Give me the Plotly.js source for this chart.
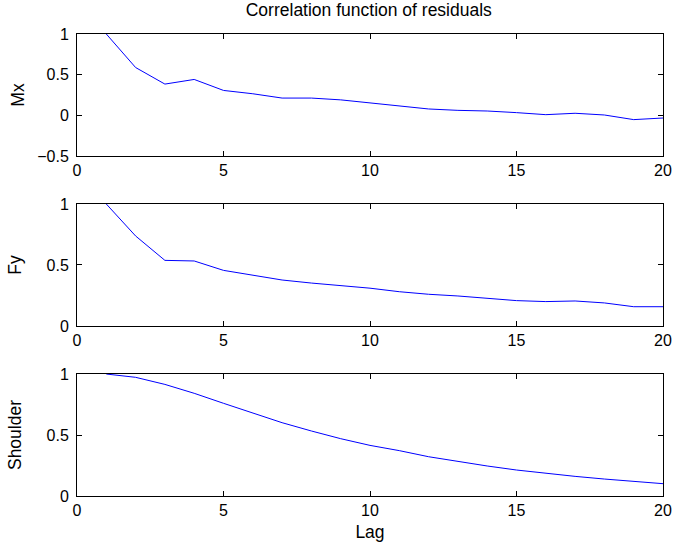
<!DOCTYPE html>
<html><head><meta charset="utf-8">
<script src="https://cdn.plot.ly/plotly-3.0.1.min.js"></script>
<style>html,body{margin:0;padding:0;background:#fff}</style>
</head><body><div id="plot" style="width:673px;height:543px"></div>
<script>
const lags = [1,2,3,4,5,6,7,8,9,10,11,12,13,14,15,16,17,18,19,20];
const mx = [1,0.588,0.384,0.441,0.306,0.265,0.212,0.212,0.19,0.15,0.11,0.078,0.061,0.053,0.033,0.008,0.025,0.004,-0.053,-0.033];
const fy = [1,0.738,0.538,0.533,0.456,0.418,0.377,0.352,0.333,0.31,0.281,0.26,0.246,0.227,0.208,0.2,0.205,0.189,0.158,0.158];
const shoulder = [1,0.973,0.915,0.842,0.76,0.678,0.601,0.533,0.47,0.415,0.372,0.322,0.281,0.246,0.213,0.186,0.161,0.139,0.12,0.101];
const yTitles = ["Mx","Fy","Shoulder"];
const titleText = "Correlation function of residuals";
const xTitle = "Lag";

const FAM = "Liberation Sans, Arial, sans-serif";
const FS = 16;
const TS = 17.5;
const traces = [mx, fy, shoulder].map((v,i)=>({
  x: lags, y: v, type:"scatter", mode:"lines",
  line:{color:"#0000ff", width:1},
  xaxis: i===0 ? "x" : "x"+(i+1), yaxis: i===0 ? "y" : "y"+(i+1),
  showlegend:false, hoverinfo:"skip"
}));
const doms = [[0.736,1],[0.368,0.632],[0,0.264]];
const layout = {
  width:673, height:543,
  margin:{l:77,r:10,t:34,b:47},
  paper_bgcolor:"#fff", plot_bgcolor:"#fff",
  font:{family:FAM, size:FS, color:"#000"},
  title:{text:titleText, font:{family:FAM,size:TS,color:"#000"}, x:0.548, xanchor:"center", y:0.982, yanchor:"middle"},
  showlegend:false
};
const ax = (n)=> n===0 ? "" : String(n+1);
for (let i=0;i<3;i++){
  layout["xaxis"+ax(i)] = {
    domain:[0,1], anchor:"y"+ax(i), range:[0,20], tickvals:[0,5,10,15,20],
    ticks:"inside", ticklen:5, tickcolor:"#000", showgrid:false, zeroline:false,
    showline:true, linecolor:"#000", linewidth:1, mirror:"ticks",
    tickfont:{family:FAM,size:FS,color:"#000"},
    title: i===2 ? {text:xTitle, font:{family:FAM,size:TS,color:"#000"}, standoff:7} : undefined
  };
  const yr = i===0 ? [-0.5,1] : [0,1];
  const yt = i===0 ? [-0.5,0,0.5,1] : [0,0.5,1];
  const ytt = i===0 ? ["\u22120.5","0","0.5","1"] : ["0","0.5","1"];
  layout["yaxis"+ax(i)] = {
    domain:doms[i], anchor:"x"+ax(i), range:yr, tickvals:yt, ticktext:ytt,
    ticks:"inside", ticklen:5, tickcolor:"#000", showgrid:false, zeroline:false,
    showline:true, linecolor:"#000", linewidth:1, mirror:"ticks",
    ticklabelstandoff:4,
    tickfont:{family:FAM,size:FS,color:"#000"},
    title:{text:yTitles[i], font:{family:FAM,size:TS,color:"#000"}, standoff: i===0 ? 8 : 20}
  };
}
Plotly.newPlot("plot", traces, layout, {staticPlot:true, displayModeBar:false});
</script></body></html>
